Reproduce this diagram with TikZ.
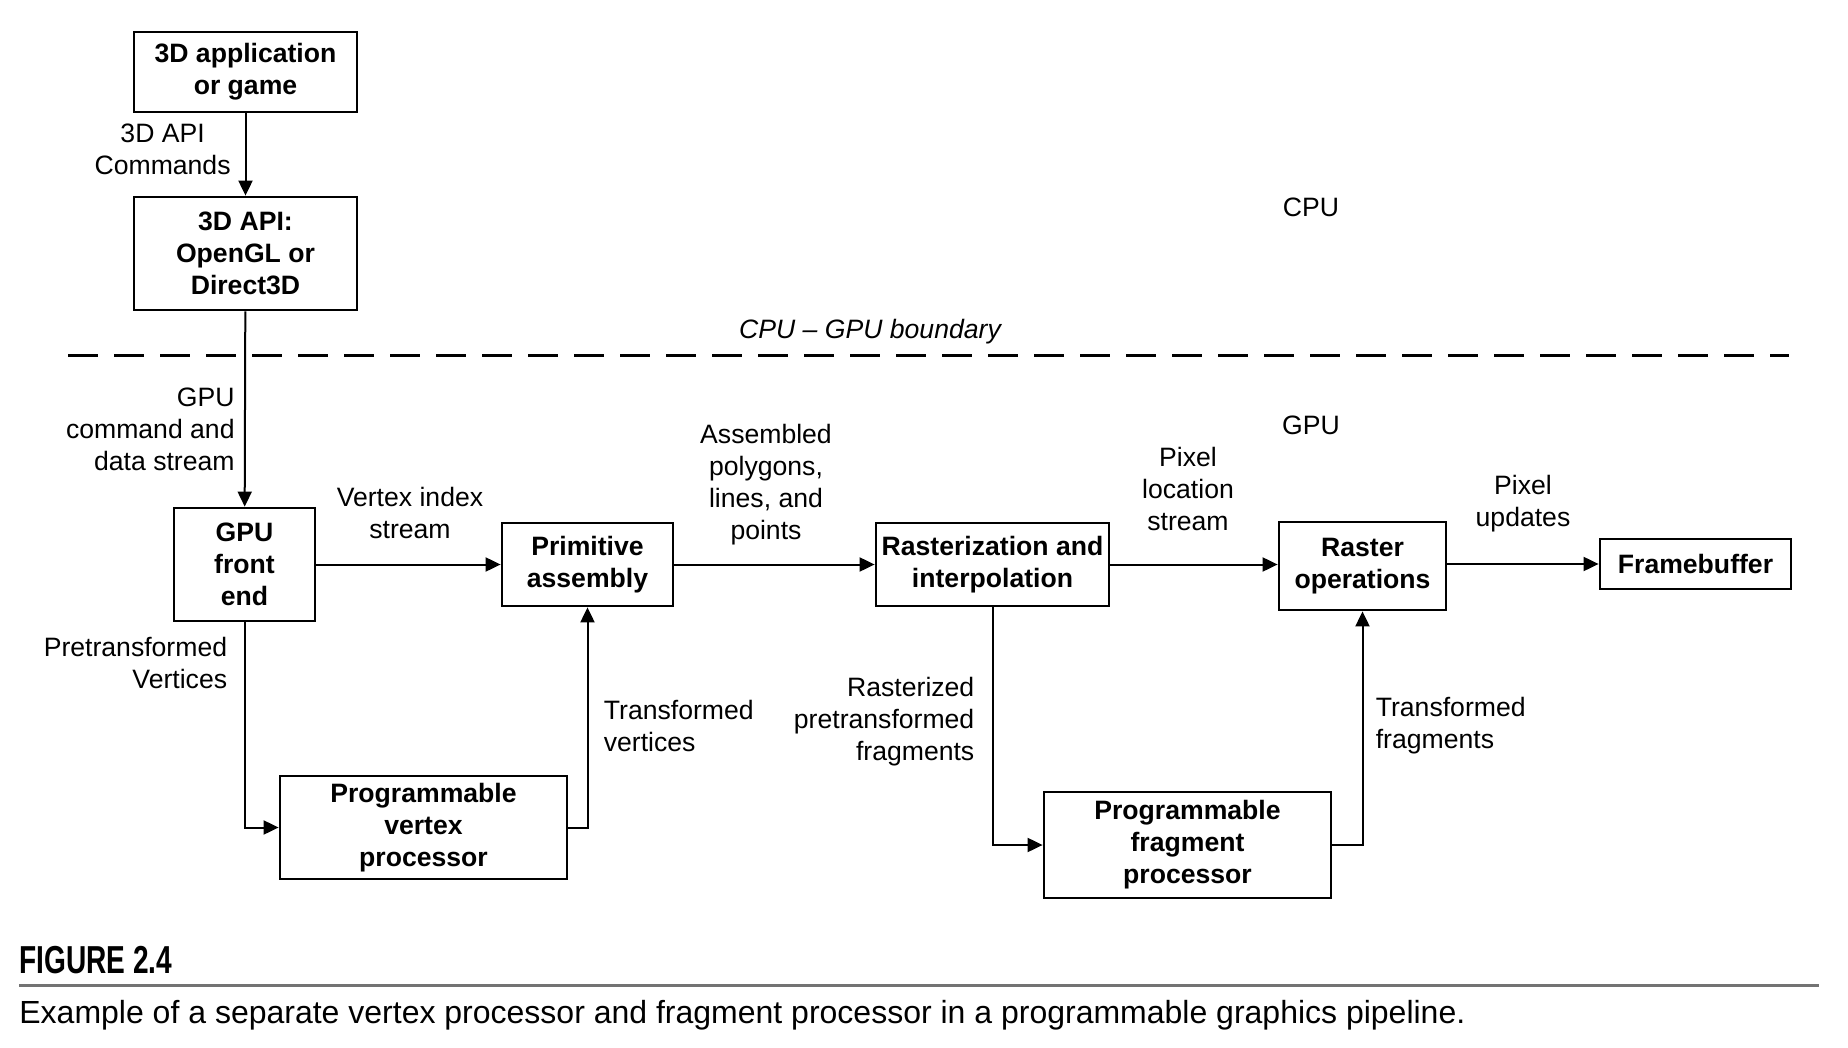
\documentclass[tikz,border=0pt]{standalone}
\usepackage{fontspec}
\setmainfont{Liberation Sans}
\newfontfamily\figfont[FakeStretch=0.72]{Liberation Sans}
\usetikzlibrary{arrows.meta, positioning}

\tikzset{
  blk/.style={draw, line width=1.4pt, align=center, inner sep=2pt,
    font=\fontsize{13.3}{16}\selectfont\bfseries},
  lbl/.style={align=center, inner sep=0pt, font=\fontsize{13.3}{16}\selectfont},
  flow/.style={line width=1pt, -{Triangle[length=7.5pt,width=7pt]}},
}

\begin{document}
\begin{tikzpicture}[x=0.5pt, y=-0.5pt]
\useasboundingbox (0,0) rectangle (1848,1048);

% CPU side
\node[blk, minimum width=111.5pt, minimum height=40pt] (app) at (245.5,72) {3D application\\or game};
\node[blk, minimum width=111.5pt, minimum height=56.5pt] (api) at (245.5,253.5) {3D API:\\OpenGL or\\Direct3D};
\node[lbl] (cmdlbl) at (162.6,149) {3D API\\Commands};
\node[lbl] (cpulbl) at (1311,207) {CPU};

% boundary
\draw[line width=1.5pt, dash pattern=on 15pt off 8pt] (68,356) -- (1789,356);
\node[lbl, font=\fontsize{13.3}{16}\selectfont\itshape] (bndlbl) at (870,332) {CPU -- GPU boundary};
\node[lbl] (gpulbl) at (1311,425) {GPU};

% GPU pipeline
\node[blk, minimum width=70.5pt, minimum height=56.5pt] (front) at (244.5,564.5) {GPU\\front\\end};
\node[blk, minimum width=85.5pt, minimum height=41.5pt] (prim) at (587.5,564.5) {Primitive\\assembly};
\node[blk, minimum width=116.5pt, minimum height=41.5pt] (rast) at (992.5,564.5) {Rasterization and\\interpolation};
\node[blk, minimum width=83.5pt, minimum height=44pt] (rop) at (1362.5,566) {Raster\\operations};
\node[blk, minimum width=95.5pt, minimum height=25pt] (fb) at (1695.5,564) {Framebuffer};
\node[blk, minimum width=143.5pt, minimum height=51.5pt] (vproc) at (423.5,827.5) {Programmable\\vertex\\processor};
\node[blk, minimum width=143.5pt, minimum height=53pt] (fproc) at (1187.5,845) {Programmable\\fragment\\processor};

% connectors
\draw[flow] (app) -- (api);
\draw[flow] (api) -- (front);
\draw[flow] (front) -- (prim);
\draw[flow] (prim) -- (rast);
\draw[flow] (rast.east) -- (rast.east -| rop.west);
\draw[flow] (rop.east |- fb.west) -- (fb.west);
\draw[flow] (front.south) |- (vproc.west);
\draw[flow] (vproc.east) -| (prim.south);
\draw[flow] (rast.south) |- (fproc.west);
\draw[flow] (fproc.east) -| (rop.south);

% connector labels
\node[lbl, anchor=east, align=right] (datalbl) at (235,429) {GPU\\command and\\data stream};
\node[lbl] (idxlbl) at (410,513) {Vertex index\\stream};
\node[lbl] (asmlbl) at (766,484.5) {Assembled\\polygons,\\lines, and\\points};
\node[lbl] (loclbl) at (1188,488.5) {Pixel\\location\\stream};
\node[lbl] (updlbl) at (1523,504) {Pixel\\updates};
\node[lbl, anchor=east, align=right] (prelbl) at (227.5,663) {Pretransformed\\Vertices};
\node[lbl, anchor=west, align=left] (tvlbl) at (603.5,725.5) {Transformed\\vertices};
\node[lbl, anchor=east, align=right] (rflbl) at (974.7,722) {Rasterized\\pretransformed\\fragments};
\node[lbl, anchor=west, align=left] (tflbl) at (1375.4,725.5) {Transformed\\fragments};

% caption
\node[anchor=base west, inner sep=0pt, font=\fontsize{19.5}{22}\figfont\bfseries] (fignum) at (19,973.5) {FIGURE 2.4};
\draw[line width=1.2pt, black!55] (19,985.5) -- (1819,985.5);
\node[anchor=base west, inner sep=0pt, font=\fontsize{16}{19}\selectfont] (figcap) at (19,1023) {Example of a separate vertex processor and fragment processor in a programmable graphics pipeline.};
\end{tikzpicture}
\end{document}
